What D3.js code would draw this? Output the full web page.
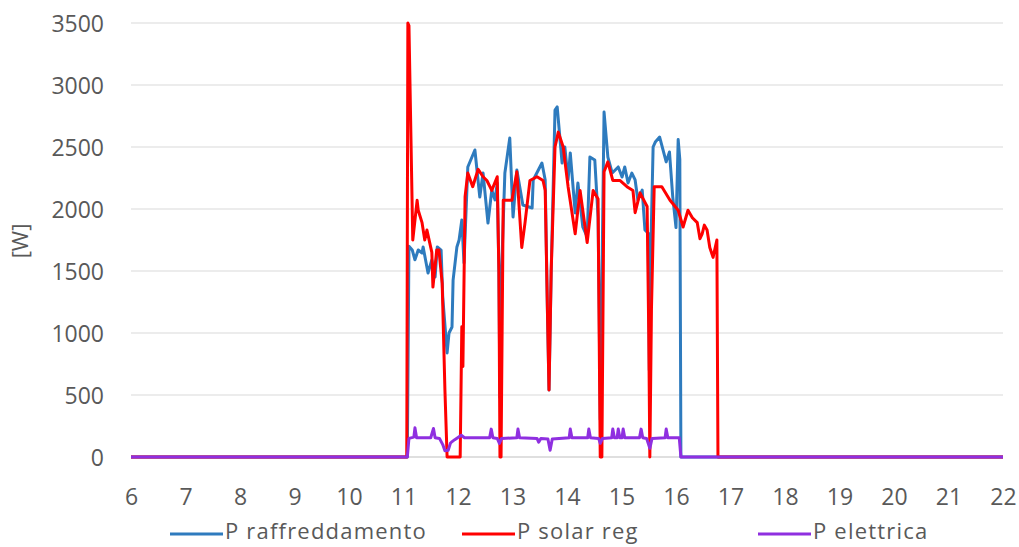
<!DOCTYPE html>
<html><head><meta charset="utf-8">
<script src="https://cdn.jsdelivr.net/npm/d3@7"></script>
<style>body{margin:0;background:#fff}svg{display:block}text{font-family:"Open Sans",sans-serif;fill:#595959}</style>
</head><body><svg id="c" width="1019" height="547"></svg>
<script>
const xTicks = [6,7,8,9,10,11,12,13,14,15,16,17,18,19,20,21,22];
const yTicks = [0,500,1000,1500,2000,2500,3000,3500];
const yLabel = "[W]";
const seriesNames = ["P raffreddamento","P solar reg","P elettrica"];
const seriesColors = ["#2E7BBE","#FF0000","#8F2FE0"];

const raffTime = [6,11.07,11.10,11.16,11.21,11.27,11.34,11.36,11.45,11.52,11.58,11.62,11.69,11.72,11.80,11.835,11.89,11.91,11.98,12.02,12.07,12.11,12.18,12.31,12.40,12.46,12.55,12.62,12.68,12.72,12.75,12.77,12.80,12.86,12.95,13.01,13.08,13.19,13.36,13.38,13.54,13.60,13.64,13.67,13.71,13.78,13.82,13.91,13.96,14.02,14.06,14.15,14.20,14.29,14.37,14.42,14.51,14.57,14.59,14.61,14.64,14.68,14.75,14.83,14.94,15.01,15.06,15.12,15.19,15.25,15.30,15.38,15.43,15.49,15.51,15.53,15.58,15.62,15.70,15.82,15.88,15.94,16.00,16.04,16.07,16.09,22];
const raffVals = [0,0,1700,1670,1590,1669,1645,1694,1484,1589,1452,1694,1669,1290,839,1000,1048,1427,1694,1750,1911,1565,2339,2476,2097,2290,1887,2153,2073,2210,1500,480,1500,2290,2573,1935,2315,2032,2008,2234,2371,2234,1200,540,1500,2798,2823,2371,2500,2234,2452,1968,2210,1855,1774,2419,2395,1935,1200,300,1400,2782,2419,2290,2339,2258,2339,2210,2290,2234,2073,2153,1831,1806,700,1500,2500,2540,2580,2380,2460,2100,1850,2560,2400,0,0];

const solarTime = [6,11.06,11.08,11.10,11.17,11.25,11.27,11.34,11.39,11.43,11.52,11.54,11.61,11.65,11.71,11.76,11.80,12.04,12.07,12.09,12.13,12.18,12.27,12.37,12.46,12.53,12.62,12.72,12.75,12.77,12.79,12.83,12.99,13.08,13.17,13.23,13.32,13.45,13.56,13.60,13.64,13.67,13.71,13.78,13.84,13.93,14.02,14.15,14.24,14.37,14.48,14.57,14.59,14.61,14.64,14.68,14.75,14.84,14.97,15.10,15.21,15.25,15.34,15.47,15.50,15.52,15.55,15.60,15.74,15.89,16.04,16.13,16.22,16.30,16.39,16.44,16.48,16.52,16.57,16.62,16.68,16.75,16.77,22];
const solarVals = [0,0,3500,3480,1750,2070,1990,1890,1750,1830,1650,1370,1670,1670,1400,540,0,0,1050,730,2100,2290,2180,2320,2260,2230,2150,2260,1500,0,0,2070,2070,2300,1690,1890,2230,2260,2230,2150,1200,540,1500,2500,2620,2500,2180,1800,2150,1730,2150,2080,1000,0,0,2300,2380,2230,2230,2180,2150,1970,2130,2020,1000,0,1200,2180,2180,2070,1990,1855,1990,1930,1890,1760,1800,1870,1830,1690,1610,1750,0,0];

const eletTime = [6,11.07,11.10,11.19,11.21,11.24,11.50,11.55,11.58,11.66,11.72,11.76,11.82,11.86,11.88,11.94,12.06,12.12,12.58,12.61,12.64,12.72,12.76,12.80,13.08,13.10,13.13,13.45,13.48,13.52,13.65,13.69,13.73,14.04,14.06,14.09,14.38,14.40,14.43,14.58,14.61,14.65,14.82,14.84,14.87,14.92,14.94,14.97,15.01,15.03,15.06,15.33,15.36,15.39,15.46,15.52,15.56,15.80,15.82,15.85,16.06,16.09,22];
const eletVals = [0,0,150,160,235,155,155,230,155,150,100,50,55,110,120,140,175,155,155,225,155,150,110,150,155,225,155,150,120,150,145,55,145,155,225,155,155,225,155,150,110,150,155,225,155,155,225,155,155,225,155,155,225,155,150,70,150,155,225,155,155,0,0];

const svg = d3.select("#c");
const x = d3.scaleLinear().domain([6,22]).range([131,1003]);
const y = d3.scaleLinear().domain([0,3500]).range([457,23]);

svg.append("g").selectAll("line").data(yTicks).join("line")
  .attr("x1",x(6)).attr("x2",x(22)).attr("y1",d=>y(d)).attr("y2",d=>y(d))
  .attr("stroke",d=>d===0?"#BFBFBF":"#D9D9D9").attr("stroke-width",1);

const yAxis = d3.axisLeft(y).tickValues(yTicks).tickSize(0).tickPadding(0).tickFormat(d3.format("d"));
const gy = svg.append("g").attr("transform","translate(104,0)").call(yAxis);
gy.select(".domain").remove();
gy.selectAll("text").attr("font-size",23).attr("fill","#595959").attr("font-family","Open Sans").attr("dy","0.35em");

const xAxis = d3.axisBottom(x).tickValues(xTicks).tickSize(0).tickPadding(0).tickFormat(d3.format("d"));
const gx = svg.append("g").attr("transform","translate(0,486)").call(xAxis);
gx.select(".domain").remove();
gx.selectAll("text").attr("font-size",23).attr("fill","#595959").attr("font-family","Open Sans").attr("dy","0.35em").attr("y",11);

svg.append("text").attr("transform","translate(20,241) rotate(-90)").attr("text-anchor","middle")
  .attr("dy","0.35em").attr("font-size",22).text(yLabel);

const line = d3.line().x(d=>x(d[0])).y(d=>y(d[1]));
const series = [
  d3.zip(raffTime, raffVals),
  d3.zip(solarTime, solarVals),
  d3.zip(eletTime, eletVals)
];
series.forEach((s,i)=>{
  svg.append("path").datum(s).attr("d",line).attr("fill","none")
    .attr("stroke",seriesColors[i]).attr("stroke-width",3).attr("stroke-linejoin","round");
});

const legX = [170,462,758];
const lg = svg.append("g");
seriesNames.forEach((n,i)=>{
  lg.append("line").attr("x1",legX[i]).attr("x2",legX[i]+53).attr("y1",534).attr("y2",534)
    .attr("stroke",seriesColors[i]).attr("stroke-width",3);
  lg.append("text").attr("x",legX[i]+55).attr("y",531).attr("dy","0.35em").attr("font-size",22)
    .attr("letter-spacing","1.2px").text(n);
});
</script></body></html>
